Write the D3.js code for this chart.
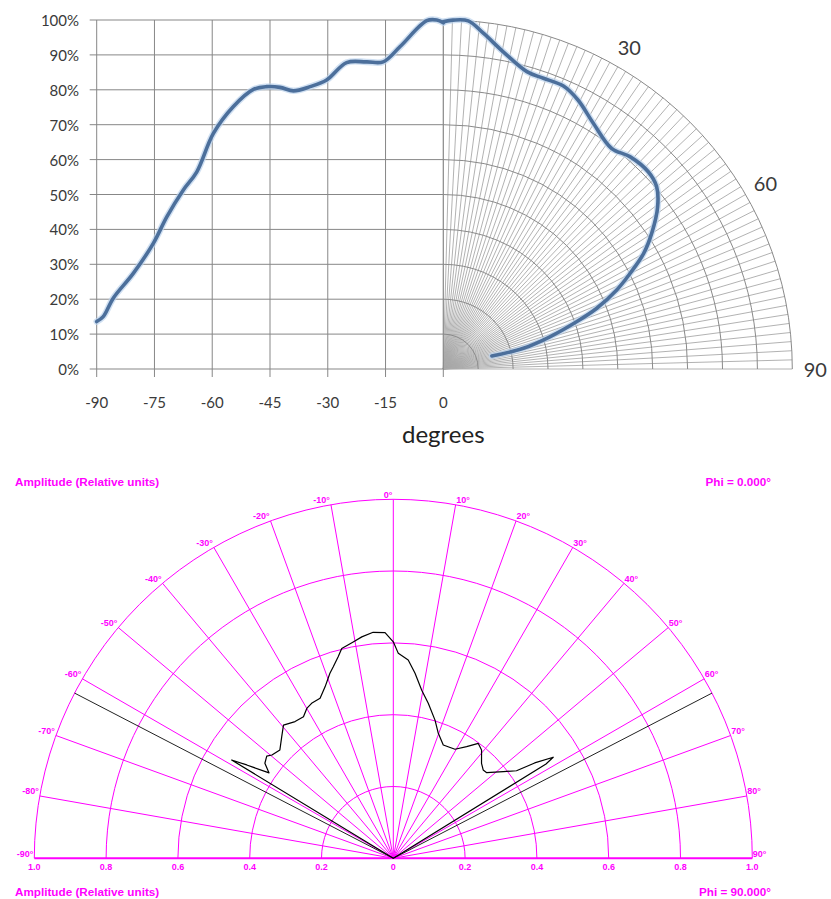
<!DOCTYPE html>
<html>
<head>
<meta charset="utf-8">
<script src="https://cdn.jsdelivr.net/npm/d3@7"></script>
<style>
  body { margin: 0; background: #fff; }
  svg { display: block; }
</style>
</head>
<body>
<svg id="chart" width="831" height="899"></svg>
<script>
// ---------- Upper figure: angular profile (degrees vs % of peak) ----------
const profileDegrees = [-90, -88.3, -85.7, -80.5, -75.3, -71.8, -67.5, -64, -59.7, -54.5, -49.3,
  -45.9, -42.4, -38.9, -34.6, -30.3, -25.1, -19.9, -15.6, -11.2, -4.3, -1.7, 0];
const profilePercent = [13.6, 15, 20.3, 27.4, 36, 43.6, 51.3, 56.5, 67.5, 75.2, 80.1,
  80.9, 80.7, 79.7, 80.9, 82.8, 87.8, 88, 88, 92.4, 99.8, 100, 99.2];

// Positive half of the profile, shown on the polar quadrant
const polarDegrees = [0, 1.6, 4.1, 6.8, 10.7, 15.7, 19, 23, 26.6, 31.4, 37.3, 41.3, 46.1,
  49.5, 52.9, 56.9, 60, 62.9, 65.5, 68.4, 70.5, 73.2, 75.5, 75];
const polarPercent = [99.5, 100, 100, 96.9, 92.5, 88.5, 88.1, 88.1, 86.2, 82.5, 79.5, 81, 81.5,
  80.4, 77, 71.3, 66.3, 60.1, 54.6, 47.3, 40.5, 31.9, 23.7, 14.4];

const xTickValues = [-90, -75, -60, -45, -30, -15, 0];
const yTickValues = [0, 10, 20, 30, 40, 50, 60, 70, 80, 90, 100];
const polarAngleLabels = [30, 60, 90];
const polarSpokeStep = 1.5;   // degrees between radar spokes

// ---------- Lower figure: amplitude pattern ----------
const beamDegrees = [-59.5, -58.7, -57.5, -55.5, -53.5, -51.1, -49.6, -46.3, -42.5, -39.5,
  -35.7, -32.4, -30, -27.8, -24.6, -21.7, -18.9, -17.4, -15.3, -13.8, -10.5, -8.1, -5.1,
  -2.1, 0, 1.4, 4.3, 6.7, 9.6, 12.7, 16.8, 19.8, 23.8, 29.5, 33.3, 36.5, 39.2, 42.9, 45.5,
  47.5, 51.8, 54.6, 56, 57.7, 58.3, 59.5];
const beamAmplitude = [0, 0.527, 0.484, 0.42, 0.445, 0.453, 0.444, 0.437, 0.46, 0.481,
  0.469, 0.467, 0.482, 0.488, 0.49, 0.514, 0.545, 0.559, 0.582, 0.602, 0.613, 0.623, 0.632,
  0.629, 0.603, 0.571, 0.554, 0.519, 0.475, 0.443, 0.402, 0.37, 0.345, 0.349, 0.372, 0.398,
  0.389, 0.361, 0.351, 0.353, 0.39, 0.421, 0.475, 0.527, 0.5, 0];
const limitDegrees = [-62.6, 62.6];
const limitAmplitude = [1.0, 1.0];
const beamRings = [0.2, 0.4, 0.6, 0.8, 1.0];
const beamSpokes = [-80, -70, -60, -50, -40, -30, -20, -10, 0, 10, 20, 30, 40, 50, 60, 70, 80];
const beamAngleLabels = [-90, -80, -70, -60, -50, -40, -30, -20, -10, 0, 10, 20, 30, 40, 50, 60, 70, 80, 90];
const amplitudeLabels = [-1.0, -0.8, -0.6, -0.4, -0.2, 0, 0.2, 0.4, 0.6, 0.8, 1.0];

const svg = d3.select("#chart");
const rad = d => d * Math.PI / 180;

// ================= Upper figure =================
const upperG = svg.append("g");
const gridColor = "#878787";
const textColor = "#3a3a3a";
const topFont = "Lato, 'Open Sans', sans-serif";

const x = d3.scaleLinear().domain([-90, 0]).range([96.7, 443.3]);
const y = d3.scaleLinear().domain([0, 100]).range([369, 20]);
const cx0 = x(0), cy0 = y(0);
const rTop = d3.scaleLinear().domain([0, 100]).range([0, cy0 - y(100)]);

// Polar quadrant grid: spokes
const spokeAngles = d3.range(0, 90 + 1e-9, polarSpokeStep);
upperG.append("g").selectAll("line").data(spokeAngles).join("line")
  .attr("x1", cx0).attr("y1", cy0)
  .attr("x2", d => cx0 + rTop(100) * Math.sin(rad(d)))
  .attr("y2", d => cy0 - rTop(100) * Math.cos(rad(d)))
  .attr("stroke", "#a9a9a9").attr("stroke-width", 0.9);

// Polar quadrant grid: rings every 10%
upperG.append("g").selectAll("path").data(yTickValues.filter(v => v > 0)).join("path")
  .attr("d", v => {
    const p = d3.path();
    p.arc(cx0, cy0, rTop(v), -Math.PI / 2, 0, false);
    return p.toString();
  })
  .attr("fill", "none").attr("stroke", "#8a8a8a").attr("stroke-width", 1);

// Polar angle labels
upperG.append("g").selectAll("text").data(polarAngleLabels).join("text")
  .attr("x", d => cx0 + 372 * Math.sin(rad(d)))
  .attr("y", d => cy0 - 372 * Math.cos(rad(d)))
  .attr("text-anchor", "middle").attr("dominant-baseline", "central")
  .attr("font-family", topFont).attr("font-size", 20).attr("fill", textColor)
  .text(d => d);

// Cartesian grid
upperG.append("g").selectAll("line").data(yTickValues).join("line")
  .attr("x1", x(-90) - 7).attr("x2", x(0))
  .attr("y1", d => y(d)).attr("y2", d => y(d))
  .attr("stroke", gridColor).attr("stroke-width", 1);
upperG.append("g").selectAll("line").data(xTickValues).join("line")
  .attr("x1", d => x(d)).attr("x2", d => x(d))
  .attr("y1", y(100)).attr("y2", y(0) + 8)
  .attr("stroke", gridColor).attr("stroke-width", 1);

// Tick labels
upperG.append("g").selectAll("text").data(yTickValues).join("text")
  .attr("x", 79).attr("y", d => y(d))
  .attr("text-anchor", "end").attr("dominant-baseline", "central")
  .attr("font-family", topFont).attr("font-size", 15).attr("fill", textColor)
  .text(d => d + "%");
upperG.append("g").selectAll("text").data(xTickValues).join("text")
  .attr("x", d => x(d)).attr("y", 402)
  .attr("text-anchor", "middle").attr("dominant-baseline", "central")
  .attr("font-family", topFont).attr("font-size", 15).attr("fill", textColor)
  .text(d => d);
upperG.append("text")
  .attr("x", x(0)).attr("y", 433)
  .attr("text-anchor", "middle").attr("dominant-baseline", "central")
  .attr("font-family", topFont).attr("font-size", 24).attr("fill", "#222")
  .text("degrees");

// Profile curves
const lineColor = "#4c6f9b";
const profileData = profileDegrees.map((d, i) => [d, profilePercent[i]]);
const profileLine = d3.line().x(d => x(d[0])).y(d => y(d[1])).curve(d3.curveCatmullRom);
const polarData = polarDegrees.map((d, i) => [rad(d), rTop(polarPercent[i])]);
const polarLine = d3.lineRadial().angle(d => d[0]).radius(d => d[1]).curve(d3.curveCatmullRom);

[["#bcd3ec", 6.5, 0.7], [lineColor, 3.6, 1]].forEach(([c, w, o]) => {
  upperG.append("path").datum(profileData).attr("d", profileLine)
    .attr("fill", "none").attr("stroke", c).attr("stroke-width", w).attr("stroke-opacity", o)
    .attr("stroke-linejoin", "round").attr("stroke-linecap", "round");
  upperG.append("path").datum(polarData).attr("d", polarLine)
    .attr("transform", `translate(${cx0},${cy0})`)
    .attr("fill", "none").attr("stroke", c).attr("stroke-width", w).attr("stroke-opacity", o)
    .attr("stroke-linejoin", "round").attr("stroke-linecap", "round");
});

// ================= Lower figure =================
const lowerG = svg.append("g");
const magenta = "#ff00ff";
const bcx = 393.3, bcy = 858.3;
const rB = d3.scaleLinear().domain([0, 1]).range([0, 359]);
const botFont = "'Liberation Sans', Arial, sans-serif";

// Rings
lowerG.append("g").selectAll("path").data(beamRings).join("path")
  .attr("d", v => {
    const p = d3.path();
    p.arc(bcx, bcy, rB(v), Math.PI, 0, false);
    return p.toString();
  })
  .attr("fill", "none").attr("stroke", magenta).attr("stroke-width", 1);

// Spokes
lowerG.append("g").selectAll("line").data(beamSpokes).join("line")
  .attr("x1", bcx).attr("y1", bcy)
  .attr("x2", d => bcx + rB(1) * Math.sin(rad(d)))
  .attr("y2", d => bcy - rB(1) * Math.cos(rad(d)))
  .attr("stroke", magenta).attr("stroke-width", 1);

// Baseline (+/-90 degrees)
lowerG.append("line")
  .attr("x1", bcx - rB(1)).attr("x2", bcx + rB(1))
  .attr("y1", bcy).attr("y2", bcy)
  .attr("stroke", magenta).attr("stroke-width", 2);

// Angle labels
lowerG.append("g").selectAll("text").data(beamAngleLabels).join("text")
  .attr("x", d => bcx + rB(1) * Math.sin(rad(d)) + (d > 0 ? 0.5 : -1))
  .attr("y", d => bcy - rB(1) * Math.cos(rad(d)) - 1.5)
  .attr("text-anchor", d => d > 0 ? "start" : "end")
  .attr("font-family", botFont).attr("font-weight", "bold").attr("font-size", 9)
  .attr("fill", magenta)
  .text(d => d + "°");

// Amplitude labels along the baseline
lowerG.append("g").selectAll("text").data(amplitudeLabels).join("text")
  .attr("x", d => bcx + rB(d))
  .attr("y", bcy + 12)
  .attr("text-anchor", "middle")
  .attr("font-family", botFont).attr("font-weight", "bold").attr("font-size", 9)
  .attr("fill", magenta)
  .text(d => d === 0 ? "0" : Math.abs(d).toFixed(1));

// Headers
const headerStyle = sel => sel.attr("font-family", botFont).attr("font-weight", "bold")
  .attr("font-size", 11.7).attr("fill", magenta);
lowerG.append("text").attr("x", 15).attr("y", 486).text("Amplitude (Relative units)").call(headerStyle);
lowerG.append("text").attr("x", 15).attr("y", 896).text("Amplitude (Relative units)").call(headerStyle);
lowerG.append("text").attr("x", 771).attr("y", 486).attr("text-anchor", "end").text("Phi = 0.000°").call(headerStyle);
lowerG.append("text").attr("x", 771).attr("y", 896).attr("text-anchor", "end").text("Phi = 90.000°").call(headerStyle);

// Limit lines
lowerG.append("g").selectAll("line").data(limitDegrees).join("line")
  .attr("x1", bcx).attr("y1", bcy)
  .attr("x2", (d, i) => bcx + rB(limitAmplitude[i]) * Math.sin(rad(d)))
  .attr("y2", (d, i) => bcy - rB(limitAmplitude[i]) * Math.cos(rad(d)))
  .attr("stroke", "#222").attr("stroke-width", 1);

// Measured pattern
const beamData = beamDegrees.map((d, i) => [rad(d), rB(beamAmplitude[i])]);
lowerG.append("path").datum(beamData)
  .attr("d", d3.lineRadial().angle(d => d[0]).radius(d => d[1]))
  .attr("transform", `translate(${bcx},${bcy})`)
  .attr("fill", "none").attr("stroke", "#000").attr("stroke-width", 1.2)
  .attr("stroke-linejoin", "round");
</script>
</body>
</html>
